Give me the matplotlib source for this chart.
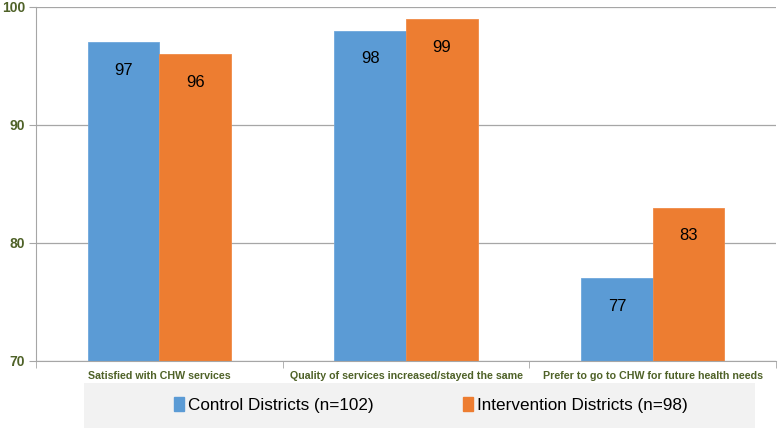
import numpy as np
import matplotlib.pyplot as plt
from matplotlib.patches import Patch, Rectangle

# data
categories = ['Satisfied with CHW services',
              'Quality of services increased/stayed the same',
              'Prefer to go to CHW for future health needs']
control = [97, 98, 77]
intervention = [96, 99, 83]
series_names = ['Control Districts (n=102)', 'Intervention Districts (n=98)']

blue = '#5B9BD5'
orange = '#ED7D31'
green = '#4F6228'

plt.rcParams['font.family'] = ['Liberation Sans', 'DejaVu Sans']

fig = plt.figure(figsize=(7.78, 4.30), dpi=100)
ax = fig.add_axes([36/778, (430-361)/430, (776-36)/778, (361-7)/430])

x = np.arange(len(categories))
w = 0.29
ax.bar(x - w/2, [v - 70 for v in control], w, bottom=70, color=blue, edgecolor='#6FA8DC', linewidth=0.6)
ax.bar(x + w/2, [v - 70 for v in intervention], w, bottom=70, color=orange, edgecolor='#F08A46', linewidth=0.6)

for xi, v in zip(x - w/2, control):
    ax.text(xi, v - 2.4, str(v), ha='center', va='center', fontsize=12)
for xi, v in zip(x + w/2, intervention):
    ax.text(xi, v - 2.4, str(v), ha='center', va='center', fontsize=12)

ax.set_ylim(70, 100)
ax.set_xlim(-0.5, len(categories) - 0.5)
ax.set_yticks([70, 80, 90, 100])
ax.tick_params(axis='y', length=5, color='#A6A6A6', labelsize=10, labelcolor=green, pad=3)
for lab in ax.get_yticklabels():
    lab.set_fontweight('bold')
ax.yaxis.grid(True, color='#A6A6A6', linewidth=0.9)
ax.set_axisbelow(True)

ax.set_xticks(x)
ax.set_xticklabels(categories, fontsize=7.7, fontweight='bold', color=green)
ax.tick_params(axis='x', length=0, pad=7)
ax.set_xticks(np.arange(len(categories) + 1) - 0.5, minor=True)
ax.tick_params(axis='x', which='minor', length=5, color='#A6A6A6')

for s in ['top', 'right']:
    ax.spines[s].set_visible(False)
ax.spines['left'].set_color('#A6A6A6')
ax.spines['bottom'].set_color('#A6A6A6')

# legend background band
fig.patches.append(Rectangle((84/778, 2/430), (755-84)/778, (428-383)/430,
                             transform=fig.transFigure, facecolor='#F2F2F2',
                             edgecolor='none', zorder=0))

handles = [Patch(color=blue), Patch(color=orange)]
leg = fig.legend(handles, series_names, loc='center', ncol=2,
                 bbox_to_anchor=(431/778, 405/430 * 0 + 25/430),
                 frameon=False, fontsize=12.3,
                 handlelength=0.6, handleheight=0.9, handletextpad=0.25,
                 columnspacing=5.2, borderpad=0)

fig.savefig('out.png', dpi=100)
